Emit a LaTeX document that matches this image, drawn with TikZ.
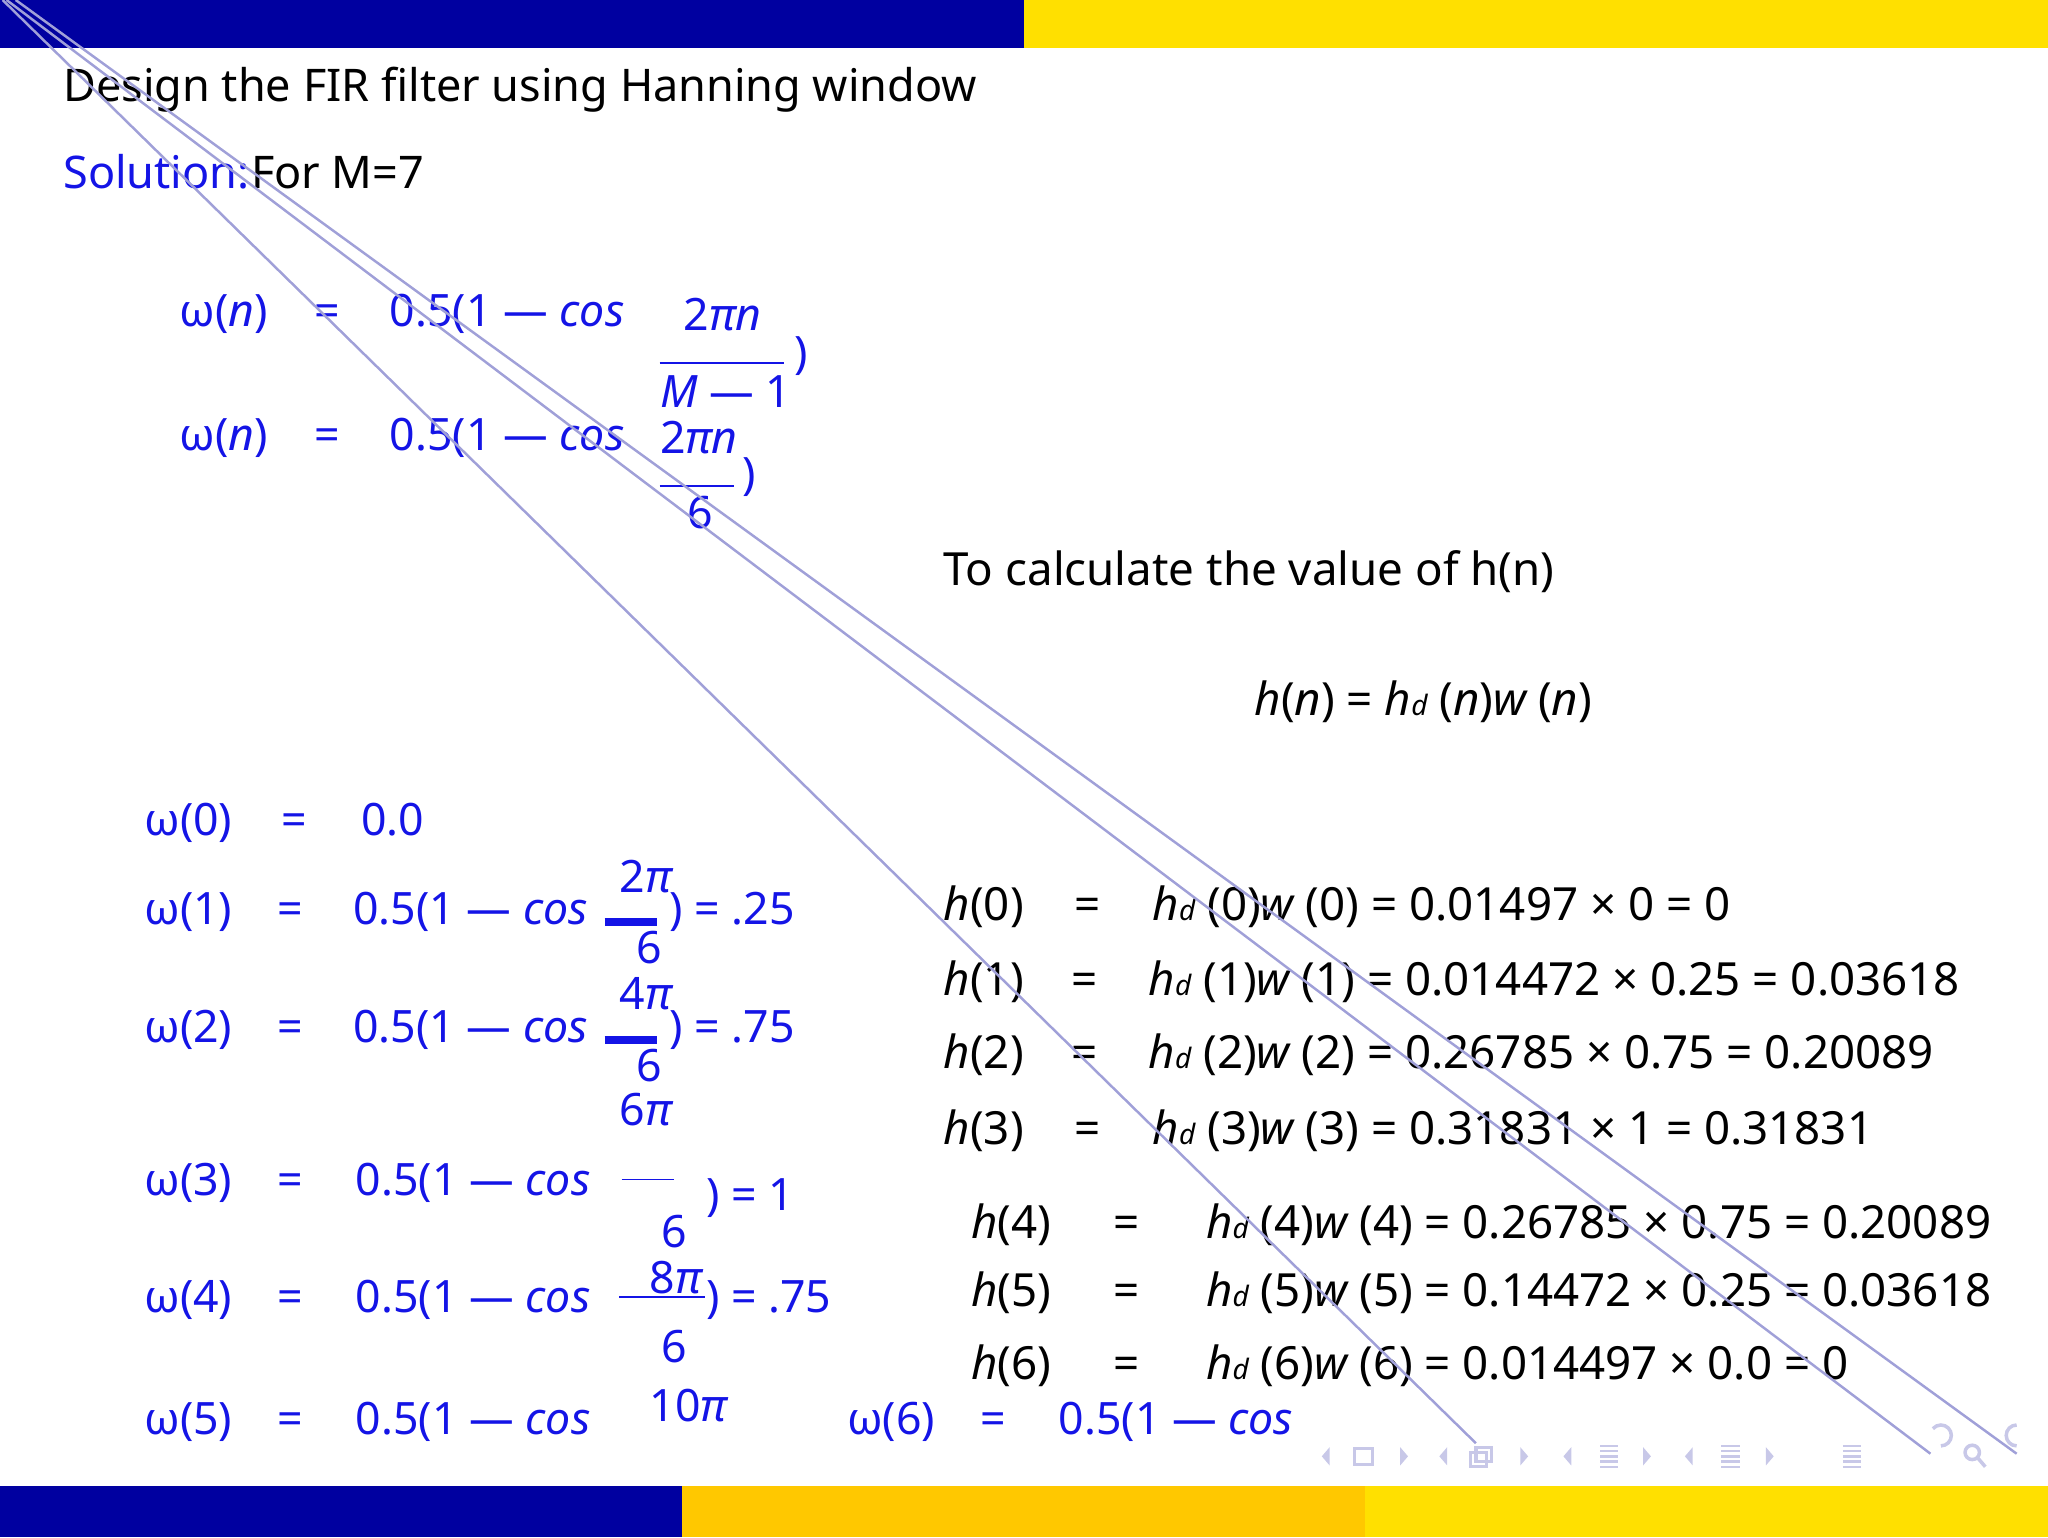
\documentclass[tikz,border=0pt]{standalone}
\usepackage{fontspec}
\setmainfont{Noto Sans}
\definecolor{dblue}{HTML}{0000A0}
\definecolor{ylw}{HTML}{FFE000}
\definecolor{gld}{HTML}{FFC800}
\definecolor{tblue}{HTML}{1414E6}
\definecolor{lnc}{HTML}{A0A0D8}
\definecolor{nav}{HTML}{C8C8E8}
\newcommand{\myit}[1]{{\itshape #1}}
\newcommand{\myd}{{\fontsize{8}{9}\selectfont\itshape d}}
\newcommand{\hd}[1]{\myit{h}\myd\ (#1)\myit{w} (#1)}
\begin{document}
\begin{tikzpicture}[x=0.01306cm,y=-0.01306cm,
  t/.style={anchor=base west,inner sep=0pt,font=\fontsize{12.7}{14}\selectfont},
  b/.style={t,text=tblue},
  k/.style={t,text=black},
  kh/.style={k,font=\fontsize{13}{15}\selectfont},
  fr/.style={draw=tblue,line width=0.5pt},
  frt/.style={draw=tblue,line width=2.2pt}]
\useasboundingbox (0,0) rectangle (1568,1177);
\fill[dblue] (0,0) rectangle (784,37);
\fill[ylw] (784,0) rectangle (1568,37);
\fill[dblue] (0,1138) rectangle (522,1177);
\fill[gld] (522,1138) rectangle (1045,1177);
\fill[ylw] (1045,1138) rectangle (1568,1177);
% title
\node[k,font=\fontsize{12.8}{15}\selectfont] (title) at (48,78) {Design the FIR filter using Hanning window};
\node[b,font=\fontsize{12.8}{15}\selectfont] (sol) at (48,144) {Solution:};
\node[k,font=\fontsize{12.8}{15}\selectfont,anchor=base west] (m7) at (sol.base east) {For M=7};
% row 1
\node[b] (r1a) at (137,250) {ω(\myit{n})};
\node[b] (r1b) at (240,250) {=};
\node[b] (r1c) at (298,250) {0.5(1 — \myit{cos}};
\node[b] (r1n) at (523,253) {2\myit{πn}};
\draw[fr] (505,278) -- (600,278);
\node[b] (r1d) at (505,312) {\myit{M} — 1};
\node[b] (r1p) at (608,282) {)};
% row 2
\node[b] (r2a) at (137,345) {ω(\myit{n})};
\node[b] (r2b) at (240,345) {=};
\node[b] (r2c) at (298,345) {0.5(1 — \myit{cos}};
\node[b] (r2n) at (505,347) {2\myit{πn}};
\draw[fr] (505,372) -- (562,372);
\node[b] (r2d) at (526,405) {6};
\node[b] (r2p) at (568,375) {)};
% h(n)
\node[kh] (calc) at (722,448) {To calculate the value of h(n)};
\node[kh] (hn) at (960,548) {\myit{h}(\myit{n}) = \myit{h}\myd\ (\myit{n})\myit{w} (\myit{n})};
% omega values
\node[b] (w0) at (110,640) {ω(0)};
\node[b] (w0e) at (215,640) {=};
\node[b] (w0v) at (276,640) {0.0};

\node[b] (w1) at (110,708) {ω(1)};
\node[b] (w1e) at (212,708) {=};
\node[b] (w1v) at (270,708) {0.5(1 — \myit{cos}};
\node[b] (w1n) at (474,683) {2\myit{π}};
\draw[frt] (463,706) -- (503,706);
\node[b] (w1d) at (487,738) {6};
\node[b] (w1r) at (512,708) {) = .25};

\node[b] (w2) at (110,798) {ω(2)};
\node[b] (w2e) at (212,798) {=};
\node[b] (w2v) at (270,798) {0.5(1 — \myit{cos}};
\node[b] (w2n) at (474,773) {4\myit{π}};
\draw[frt] (463,796) -- (503,796);
\node[b] (w2d) at (487,828) {6};
\node[b] (w2r) at (512,798) {) = .75};
\node[b] (w3n) at (474,862) {6\myit{π}};

\node[b] (w3) at (110,915) {ω(3)};
\node[b] (w3e) at (212,915) {=};
\node[b] (w3v) at (272,915) {0.5(1 — \myit{cos}};
\draw[fr] (476,903) -- (516,903);
\node[b] (w3d) at (506,955) {6};
\node[b] (w3r) at (540,927) {) = 1};

\node[b] (w4) at (110,1005) {ω(4)};
\node[b] (w4e) at (212,1005) {=};
\node[b] (w4v) at (272,1005) {0.5(1 — \myit{cos}};
\node[b] (w4n) at (497,990) {8\myit{π}};
\draw[fr] (474,993) -- (540,993);
\node[b] (w4d) at (506,1043) {6};
\node[b] (w4r) at (540,1005) {) = .75};

\node[b] (w5) at (110,1098) {ω(5)};
\node[b] (w5e) at (212,1098) {=};
\node[b] (w5v) at (272,1098) {0.5(1 — \myit{cos}};
\node[b] (w5n) at (497,1088) {10\myit{π}};

\node[b] (w6) at (648,1098) {ω(6)};
\node[b] (w6e) at (750,1098) {=};
\node[b] (w6v) at (810,1098) {0.5(1 — \myit{cos}};
% h rows
\node[kh] (h0) at (722,705) {\myit{h}(0)};
\node[kh] (h0e) at (822,705) {=};
\node[kh] (h0v) at (882,705) {\hd{0} = 0.01497 × 0 = 0};
\node[kh] (h1) at (722,762) {\myit{h}(1)};
\node[kh] (h1e) at (820,762) {=};
\node[kh] (h1v) at (879,762) {\hd{1} = 0.014472 × 0.25 = 0.03618};
\node[kh] (h2) at (722,818) {\myit{h}(2)};
\node[kh] (h2e) at (820,818) {=};
\node[kh] (h2v) at (879,818) {\hd{2} = 0.26785 × 0.75 = 0.20089};
\node[kh] (h3) at (722,876) {\myit{h}(3)};
\node[kh] (h3e) at (822,876) {=};
\node[kh] (h3v) at (882,876) {\hd{3} = 0.31831 × 1 = 0.31831};
\node[kh] (h4) at (743,948) {\myit{h}(4)};
\node[kh] (h4e) at (852,948) {=};
\node[kh] (h4v) at (923,948) {\hd{4} = 0.26785 × 0.75 = 0.20089};
\node[kh] (h5) at (743,1000) {\myit{h}(5)};
\node[kh] (h5e) at (852,1000) {=};
\node[kh] (h5v) at (923,1000) {\hd{5} = 0.14472 × 0.25 = 0.03618};
\node[kh] (h6) at (743,1056) {\myit{h}(6)};
\node[kh] (h6e) at (852,1056) {=};
\node[kh] (h6v) at (923,1056) {\hd{6} = 0.014497 × 0.0 = 0};
% navigation symbols
\foreach \x in {1012,1102,1197,1290} \fill[nav] (\x,1115) -- (\x+6,1108) -- (\x+6,1122) -- cycle;
\foreach \x in {1078,1170,1264,1358} \fill[nav] (\x,1115) -- (\x-6,1108) -- (\x-6,1122) -- cycle;
\draw[nav,line width=0.9pt] (1037,1109) rectangle (1051,1121);
\draw[nav,line width=0.9pt] (1126,1112) rectangle (1138,1123) (1130,1108) rectangle (1142,1119);
\foreach \x in {1225,1318,1411} \foreach \yy in {1107,1111,1115,1119,1123} \draw[nav,line width=0.7pt] (\x,\yy) -- (\x+14,\yy);
\draw[nav,line width=1pt] (1486,1107) arc (90:-140:8);
\draw[nav,line width=1pt] (1510,1112) circle (5.5) (1514,1116) -- (1520,1123);
\draw[nav,line width=1pt] (1544,1107) arc (90:270:8);
% diagonal lines
\draw[lnc,line width=0.7pt] (2,0) -- (1130,1105);
\draw[lnc,line width=0.7pt] (5,0) -- (1478,1113);
\draw[lnc,line width=0.7pt] (12,0) -- (1544,1113);
\end{tikzpicture}
\end{document}
